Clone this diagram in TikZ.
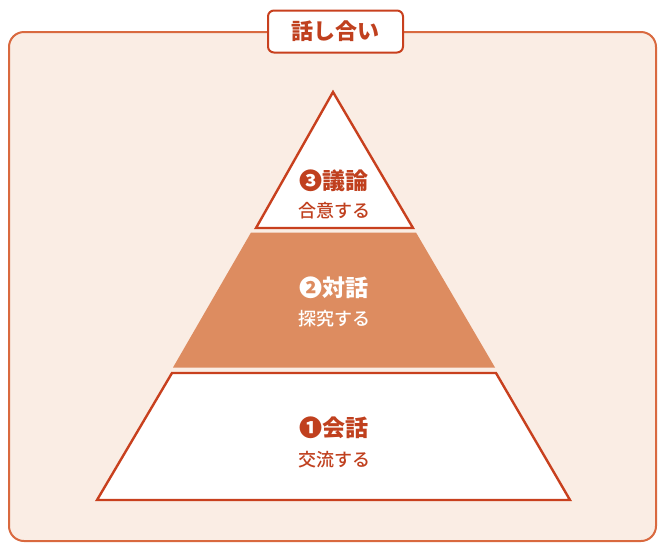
\documentclass[tikz,border=0pt]{standalone}
\usepackage{fontspec}
\setmainfont{Noto Sans CJK JP}
\newfontfamily\jpmed{Noto Sans CJK JP Medium}
\definecolor{bgc}{HTML}{FAEDE4}
\definecolor{boxline}{HTML}{D9693F}
\definecolor{redline}{HTML}{C8401E}
\definecolor{midfill}{HTML}{DD8C60}
\definecolor{txtred}{HTML}{C0401E}
\tikzset{
  layerline/.style={draw=redline, line width=2.4pt, line join=miter, fill=white},
  head/.style={font=\fontsize{23}{25}\selectfont\bfseries, text=txtred, anchor=center, inner sep=0pt},
  sub/.style={font=\jpmed\fontsize{18}{20}\selectfont, text=txtred, anchor=center, inner sep=0pt}
}
\begin{document}
\begin{tikzpicture}[x=1pt,y=-1pt]
\useasboundingbox (0,0) rectangle (658,542);
\fill[white] (0,0) rectangle (658,542);
\draw[boxline, fill=bgc, line width=2pt, rounded corners=15pt] (9,32) rectangle (656,541);
% title
\node[draw=redline, fill=white, line width=2pt, rounded corners=6pt, minimum width=135pt, minimum height=42pt, inner sep=0pt,
  font=\fontsize{22}{24}\selectfont\bfseries, text=txtred] (title) at (335.5,31.5) {話し合い};
% top triangle
\draw[layerline] (333,92) -- (413,228) -- (256,228) -- cycle;
% middle trapezoid
\fill[midfill] (251,232.5) -- (416,232.5) -- (495,367.5) -- (173,367.5) -- cycle;
% bottom trapezoid
\draw[layerline] (172,373) -- (496,373) -- (570,500) -- (97,500) -- cycle;
% texts
\node[head] (t3) at (334,181) {❸議論};
\node[sub] (s3) at (334,211) {合意する};
\node[head, text=white] (t2) at (334,288) {❷対話};
\node[sub, text=white] (s2) at (334,319) {探究する};
\node[head] (t1) at (334,428) {❶会話};
\node[sub] (s1) at (334,460) {交流する};
\end{tikzpicture}
\end{document}
